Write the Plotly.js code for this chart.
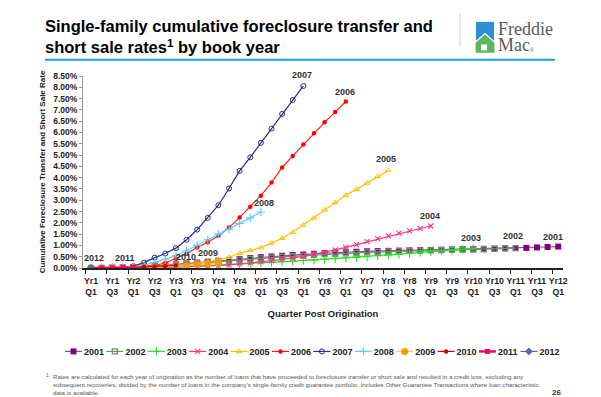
<!DOCTYPE html>
<html><head><meta charset="utf-8">
<script src="https://cdn.plot.ly/plotly-3.0.1.min.js"></script>
<style>html,body{margin:0;padding:0;background:#fff;} #chart{width:601px;height:397px;}</style>
</head><body><div id="chart"></div>
<script>
// ---------- DATA ----------
const categories = [
  "Yr1<br>Q1","Yr1<br>Q2","Yr1<br>Q3","Yr1<br>Q4",
  "Yr2<br>Q1","Yr2<br>Q2","Yr2<br>Q3","Yr2<br>Q4",
  "Yr3<br>Q1","Yr3<br>Q2","Yr3<br>Q3","Yr3<br>Q4",
  "Yr4<br>Q1","Yr4<br>Q2","Yr4<br>Q3","Yr4<br>Q4",
  "Yr5<br>Q1","Yr5<br>Q2","Yr5<br>Q3","Yr5<br>Q4",
  "Yr6<br>Q1","Yr6<br>Q2","Yr6<br>Q3","Yr6<br>Q4",
  "Yr7<br>Q1","Yr7<br>Q2","Yr7<br>Q3","Yr7<br>Q4",
  "Yr8<br>Q1","Yr8<br>Q2","Yr8<br>Q3","Yr8<br>Q4",
  "Yr9<br>Q1","Yr9<br>Q2","Yr9<br>Q3","Yr9<br>Q4",
  "Yr10<br>Q1","Yr10<br>Q2","Yr10<br>Q3","Yr10<br>Q4",
  "Yr11<br>Q1","Yr11<br>Q2","Yr11<br>Q3","Yr11<br>Q4",
  "Yr12<br>Q1"
];
const bookYears = ["2001","2002","2003","2004","2005","2006","2007","2008","2009","2010","2011","2012"];

const rate2001 = [0.00,0.00,0.01,0.02,0.04,0.06,0.09,0.12,0.16,0.20,0.24,0.28,0.32,0.36,0.40,0.44,0.48,0.51,0.54,0.57,0.60,0.63,0.66,0.68,0.70,0.72,0.74,0.75,0.76,0.77,0.78,0.79,0.80,0.81,0.82,0.83,0.84,0.85,0.86,0.87,0.88,0.89,0.91,0.93,0.95];
const rate2002 = [0.00,0.00,0.01,0.02,0.03,0.05,0.07,0.10,0.13,0.17,0.21,0.25,0.29,0.33,0.37,0.40,0.43,0.46,0.49,0.52,0.55,0.58,0.61,0.63,0.65,0.67,0.69,0.71,0.73,0.75,0.76,0.77,0.78,0.79,0.80,0.81,0.82,0.83,0.85,0.87,0.88];
const rate2003 = [0.00,0.00,0.00,0.01,0.01,0.02,0.03,0.04,0.05,0.07,0.09,0.11,0.13,0.16,0.18,0.20,0.23,0.25,0.28,0.30,0.33,0.35,0.38,0.41,0.44,0.47,0.50,0.54,0.57,0.61,0.65,0.69,0.73,0.77,0.80,0.83,0.86];
const rate2004 = [0.00,0.00,0.00,0.00,0.01,0.01,0.02,0.03,0.04,0.05,0.07,0.09,0.11,0.14,0.18,0.22,0.27,0.32,0.38,0.44,0.51,0.60,0.69,0.80,0.91,1.03,1.17,1.30,1.42,1.54,1.64,1.75,1.86];
const rate2005 = [0.00,0.00,0.00,0.01,0.02,0.03,0.05,0.07,0.10,0.14,0.19,0.26,0.36,0.48,0.65,0.78,0.90,1.10,1.32,1.58,1.90,2.22,2.58,2.90,3.22,3.48,3.76,4.06,4.32];
const rate2006 = [0.00,0.00,0.00,0.02,0.04,0.07,0.12,0.22,0.41,0.63,0.91,1.14,1.43,1.79,2.24,2.71,3.20,3.78,4.45,4.96,5.47,5.96,6.45,6.91,7.37];
const rate2007 = [0.00,0.00,0.01,0.03,0.08,0.24,0.46,0.64,0.88,1.25,1.70,2.22,2.78,3.52,4.30,4.90,5.54,6.17,6.82,7.44,8.06];
const rate2008 = [0.00,0.00,0.01,0.03,0.06,0.13,0.25,0.39,0.54,0.76,1.00,1.25,1.50,1.72,1.97,2.22,2.48];
const rate2009 = [0.00,0.00,0.00,0.00,0.01,0.02,0.03,0.05,0.07,0.10,0.14,0.18,0.22];
const rate2010 = [0.00,0.00,0.01,0.02,0.03,0.05,0.07,0.09,0.11];
const rate2011 = [0.00,0.00,0.00,0.01,0.02];
const rate2012 = [0.00];
const seriesValues = [rate2001,rate2002,rate2003,rate2004,rate2005,rate2006,rate2007,rate2008,rate2009,rate2010,rate2011,rate2012];

// ---------- STYLES ----------
const FONT = 'Liberation Sans, Arial, sans-serif';
const styles = [
  {color:'#800080', line:'#8a4f8a', symbol:'square', size:6, lw:1.2},
  {color:'#7a8f7a', line:'#5f9f5f', symbol:'square-open', size:5, lw:1.2, mlw:1.3},
  {color:'#22dd22', line:'#22ee22', symbol:'cross-thin', size:6, lw:1.2, mlw:1.1},
  {color:'#ff3380', line:'#ff3380', symbol:'x-thin', size:5, lw:1.2, mlw:1.1},
  {color:'#ffc000', line:'#ffc000', symbol:'triangle-up-open', size:5, lw:1.2, mlw:1},
  {color:'#ff0000', line:'#ff1a1a', symbol:'circle', size:4.5, lw:1.2},
  {color:'#2a2a8c', line:'#2a2a8c', symbol:'circle-open', size:5, lw:1.2, mlw:1},
  {color:'#55ccff', line:'#66ccff', symbol:'cross-thin', size:6, lw:1.2, mlw:1.1},
  {color:'#ff9900', line:'#ffc080', symbol:'circle', size:7, lw:1.2},
  {color:'#cc0000', line:'#cc0000', symbol:'circle', size:4.5, lw:1.2},
  {color:'#ff0066', line:'#ff0066', symbol:'square', size:5, lw:2.5},
  {color:'#4a6fa5', line:'#4a6fa5', symbol:'diamond', size:6, lw:1.2}
];
const labelShift = [[-5,3],[-3,5],[-2,4],[-1,3],[-2,4],[-1,3],[-1,4],[3,2],[-10,3],[10,2],[-8,3],[3,3]];

const L=83, R=563, T=76, B=271;
const px = x => (x-L)/(R-L);
const py = y => (B-y)/(B-T);

const traces = seriesValues.map((vals,i)=>{
  const s = styles[i];
  const mk = {color:s.color, size:s.size, symbol:s.symbol};
  if (s.mlw) mk.line = {color:s.color, width:s.mlw};
  return {
    type:'scatter', mode:'lines+markers', name:bookYears[i],
    x: categories.slice(0, vals.length), y: vals,
    line:{color:s.line, width:s.lw}, marker:mk,
    hoverinfo:'skip'
  };
});

const annotations = seriesValues.map((vals,i)=>({
  x: categories[vals.length-1], y: vals[vals.length-1], xref:'x', yref:'y',
  text: bookYears[i], showarrow:false, yanchor:'bottom', xanchor:'center',
  xshift: labelShift[i][0], yshift: labelShift[i][1],
  font:{family:FONT, size:9, color:'#333', weight:'bold'}
}));

annotations.push(
  {xref:'paper', yref:'paper', x:px(496), y:py(28), xanchor:'left', yanchor:'middle', showarrow:false,
   text:'Freddie', font:{family:'Liberation Serif, Times New Roman, serif', size:18, color:'#5a5a5a'}},
  {xref:'paper', yref:'paper', x:px(496), y:py(45), xanchor:'left', yanchor:'middle', showarrow:false,
   text:'Mac', font:{family:'Liberation Serif, Times New Roman, serif', size:18, color:'#5a5a5a'}},
  {xref:'paper', yref:'paper', x:px(528), y:py(50), xanchor:'left', yanchor:'middle', showarrow:false,
   text:'®', font:{family:FONT, size:5, color:'#5a5a5a'}},
  {xref:'paper', yref:'paper', x:px(44), y:py(375), xanchor:'left', yanchor:'top', showarrow:false,
   text:'1', font:{family:FONT, size:5, color:'#555'}},
  {xref:'paper', yref:'paper', x:px(51), y:py(376), xanchor:'left', yanchor:'top', showarrow:false, align:'left',
   text:'Rates are calculated for each year of origination as the number of loans that have proceeded to foreclosure transfer or short sale and resulted in a credit loss, excluding any<br>subsequent recoveries, divided by the number of loans in the company\'s single-family credit guarantee portfolio. Includes Other Guarantee Transactions where loan characteristic<br>data is available.',
   font:{family:FONT, size:6.2, color:'#555'}},
  {xref:'paper', yref:'paper', x:px(556), y:py(391), xanchor:'center', yanchor:'top', showarrow:false,
   text:'26', font:{family:FONT, size:8, color:'#333', weight:'bold'}}
);

const shapes = [
  {type:'line', xref:'paper', yref:'paper', x0:px(45), x1:px(555), y0:py(59.5), y1:py(59.5), line:{color:'#1a9fe2', width:2}},
  {type:'line', xref:'paper', yref:'paper', x0:px(460), x1:px(460), y0:py(13), y1:py(46), line:{color:'#d0d0d0', width:1}},
  {type:'rect', xref:'paper', yref:'paper', x0:px(476), x1:px(494), y0:py(21), y1:py(46), line:{width:0}, fillcolor:'#2e8fd8'},
  {type:'path', xref:'paper', yref:'paper',
   path:'M'+px(475)+','+py(53)+' L'+px(475)+','+py(42)+' L'+px(485)+','+py(33)+' L'+px(495)+','+py(42)+' L'+px(495)+','+py(53)+' Z',
   line:{color:'#ffffff', width:1.2}, fillcolor:'#5cb85c'},
  {type:'rect', xref:'paper', yref:'paper', x0:px(481), x1:px(487), y0:py(44), y1:py(50), line:{width:0}, fillcolor:'#ffffff'}
];

const layout = {
  width:601, height:397,
  margin:{l:L, r:601-R, t:T, b:397-B, pad:0},
  paper_bgcolor:'#fff', plot_bgcolor:'#fff',
  font:{family:FONT, size:9, color:'#222'},
  title:{text:'Single-family cumulative foreclosure transfer and<br>short sale rates<sup>1</sup> by book year',
    font:{family:FONT, size:16.5, color:'#000', weight:'bold'},
    xref:'container', yref:'container', x:45/601, xanchor:'left', y:1-32/397, yanchor:'top'},
  xaxis:{type:'category', categoryarray:categories, categoryorder:'array',
    range:[-0.75, 44.45], dtick:2, tickson:'boundaries', ticks:'outside', ticklen:4, tickcolor:'#222',
    showline:true, linecolor:'#222', linewidth:1.5, showgrid:false, zeroline:false,
    tickfont:{family:FONT, size:8.7, color:'#222', weight:'bold'}, tickangle:0, ticklabelstandoff:4,
    title:{text:'Quarter Post Origination', font:{family:FONT, size:9.5, color:'#222', weight:'bold'}, standoff:14},
    automargin:false},
  yaxis:{range:[0,8.5], dtick:0.5, tickformat:'.2f', ticksuffix:'%', ticks:'outside', ticklen:3, tickcolor:'#999',
    showline:true, linecolor:'#999', linewidth:1, showgrid:false, zeroline:false,
    tickfont:{family:FONT, size:8.5, color:'#222', weight:'bold'},
    title:{text:'Cumulative Foreclosure Transfer and Short Sale Rate', font:{family:FONT, size:8, color:'#222', weight:'bold'}, standoff:6},
    automargin:false},
  showlegend:true,
  legend:{orientation:'h', x:px(65), xanchor:'left', y:py(341), yanchor:'top',
    font:{family:FONT, size:9, color:'#222', weight:'bold'}, bgcolor:'rgba(0,0,0,0)', borderwidth:0,
    itemwidth:30, traceorder:'normal'},
  annotations: annotations,
  shapes: shapes
};

Plotly.newPlot('chart', traces, layout, {staticPlot:true, displayModeBar:false}).then(function(gd){
  const items = gd.querySelectorAll('.legend .traces');
  let y0 = null;
  items.forEach(function(g, i){
    const tr = g.getAttribute('transform') || '';
    const m = tr.match(/translate\(([-\d.]+)[ ,]+([-\d.]+)\)/);
    if (y0 === null) y0 = m ? parseFloat(m[2]) : 0;
    g.setAttribute('transform', 'translate(' + (i*41.4) + ',' + y0 + ')');
    g.querySelectorAll('.legendlines path').forEach(p => p.setAttribute('d','M0,0h17'));
    g.querySelectorAll('.legendpoints path').forEach(p => p.setAttribute('transform','translate(8.5,0)'));
    const t = g.querySelector('text.legendtext');
    if (t) t.setAttribute('x', 19);
  });
  const sb = gd.querySelector('.legend .scrollbox');
  if (sb) sb.removeAttribute('clip-path');
  const lg = gd.querySelector('.legend');
  if (lg) lg.removeAttribute('clip-path');
});
</script>
</body></html>
